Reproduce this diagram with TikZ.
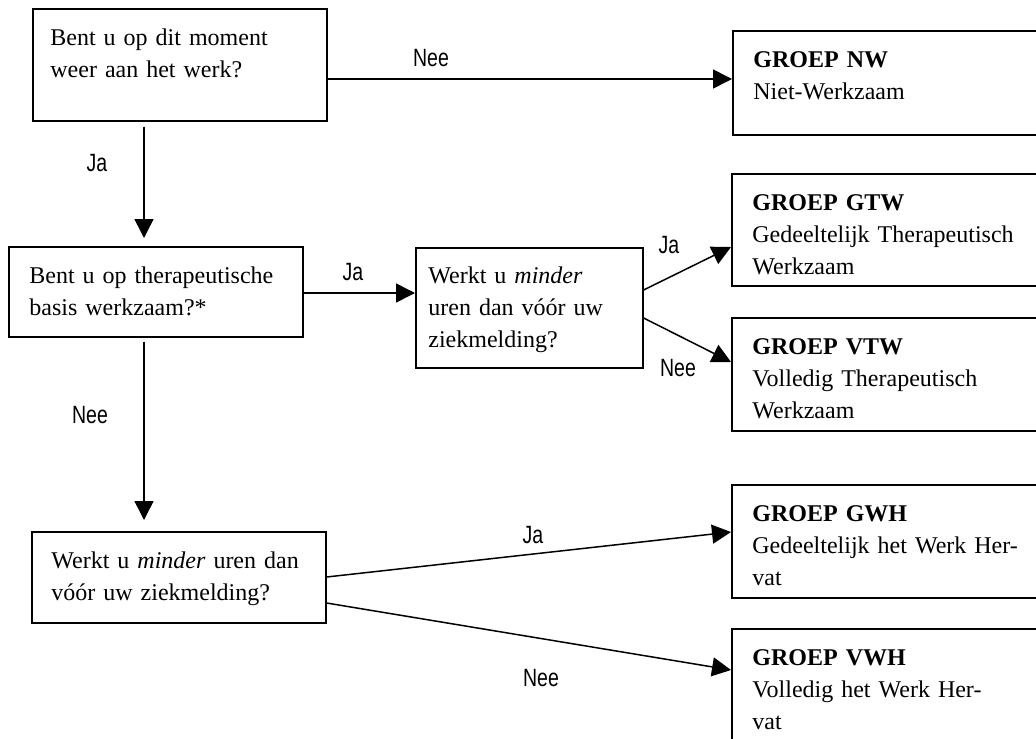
\documentclass[tikz,border=0pt]{standalone}
\usepackage{fontspec}
\setmainfont{Liberation Serif}
\newfontfamily\lblfont[FakeStretch=0.78]{Liberation Sans}
\usetikzlibrary{arrows.meta,calc}
\tikzset{
  box/.style={draw, line width=0.8pt, rectangle, inner sep=0pt, anchor=north west},
  txt/.style={anchor=base west, inner sep=0pt, text width=300pt, align=left,
    font=\fontsize{12pt}{16pt}\selectfont},
  arr/.style={line width=0.75pt, -{Triangle[length=9.5pt,width=9.5pt]}},
  lbl/.style={inner sep=0pt, font=\lblfont\fontsize{12.5pt}{14pt}\selectfont}
}
\begin{document}
\begin{tikzpicture}[x=0.5pt,y=-0.5pt]
\useasboundingbox (0,0) rectangle (1036,738);
\clip (0,0) rectangle (1036,738);
% boxes
\node[box, minimum width=147pt, minimum height=56pt] (b1) at (32,8) {};
\node[box, minimum width=159pt, minimum height=52pt] (nw) at (732,30) {};
\node[box, minimum width=147pt, minimum height=45pt] (b2) at (8,246) {};
\node[box, minimum width=113.5pt, minimum height=60pt] (b3) at (415,247) {};
\node[box, minimum width=159pt, minimum height=56pt] (gtw) at (731,173) {};
\node[box, minimum width=159pt, minimum height=56.5pt] (vtw) at (731,317) {};
\node[box, minimum width=147pt, minimum height=45.5pt] (b4) at (31,531) {};
\node[box, minimum width=159pt, minimum height=56.5pt] (gwh) at (731,484) {};
\node[box, minimum width=159pt, minimum height=70pt] (vwh) at (731,628) {};
% texts
\node[txt] (t1) at ($(b1.north west)+(18,38)$) {Bent u op dit moment\\weer aan het werk?};
\node[txt] (tnw) at ($(nw.north west)+(21,38)$) {\textbf{GROEP NW}\\Niet-Werkzaam};
\node[txt] (t2) at ($(b2.north west)+(21,37)$) {Bent u op therapeutische\\basis werkzaam?*};
\node[txt] (t3) at ($(b3.north west)+(13,36)$) {Werkt u \emph{minder}\\uren dan vóór uw\\ziekmelding?};
\node[txt] (tgtw) at ($(gtw.north west)+(21,37)$) {\textbf{GROEP GTW}\\Gedeeltelijk Therapeutisch\\Werkzaam};
\node[txt] (tvtw) at ($(vtw.north west)+(21,37)$) {\textbf{GROEP VTW}\\Volledig Therapeutisch\\Werkzaam};
\node[txt] (t4) at ($(b4.north west)+(20,37)$) {Werkt u \emph{minder} uren dan\\vóór uw ziekmelding?};
\node[txt] (tgwh) at ($(gwh.north west)+(21,37)$) {\textbf{GROEP GWH}\\Gedeeltelijk het Werk Her-\\vat};
\node[txt] (tvwh) at ($(vwh.north west)+(21,37)$) {\textbf{GROEP VWH}\\Volledig het Werk Her-\\vat};
% connectors
\draw[arr] ($(b1.north east)+(0,71)$) -- ($(nw.north west)+(0,49)$);
\draw[arr] ($(b1.south west)+(112,5)$) -- ($(b2.north west)+(136,-8)$);
\draw[arr] ($(b2.south west)+(136,4)$) -- ($(b4.north west)+(113,-11)$);
\draw[arr] ($(b2.north east)+(0,47)$) -- ($(b3.north west)+(0,46)$);
\draw[arr] ($(b3.north east)+(0,43)$) -- ($(gtw.north west)+(0,74)$);
\draw[arr] ($(b3.north east)+(0,71)$) -- ($(vtw.north west)+(0,45)$);
\draw[arr] ($(b4.north east)+(0,46)$) -- ($(gwh.north west)+(0,48)$);
\draw[arr] ($(b4.north east)+(0,72)$) -- ($(vwh.north west)+(0,42)$);
% labels
\node[lbl] (l1) at (431,58) {Nee};
\node[lbl] (l2) at (97,163) {Ja};
\node[lbl] (l3) at (353,272) {Ja};
\node[lbl] (l4) at (90,415) {Nee};
\node[lbl] (l5) at (669,245) {Ja};
\node[lbl] (l6) at (678,368) {Nee};
\node[lbl] (l7) at (533,535) {Ja};
\node[lbl] (l8) at (541,678) {Nee};
\end{tikzpicture}
\end{document}
